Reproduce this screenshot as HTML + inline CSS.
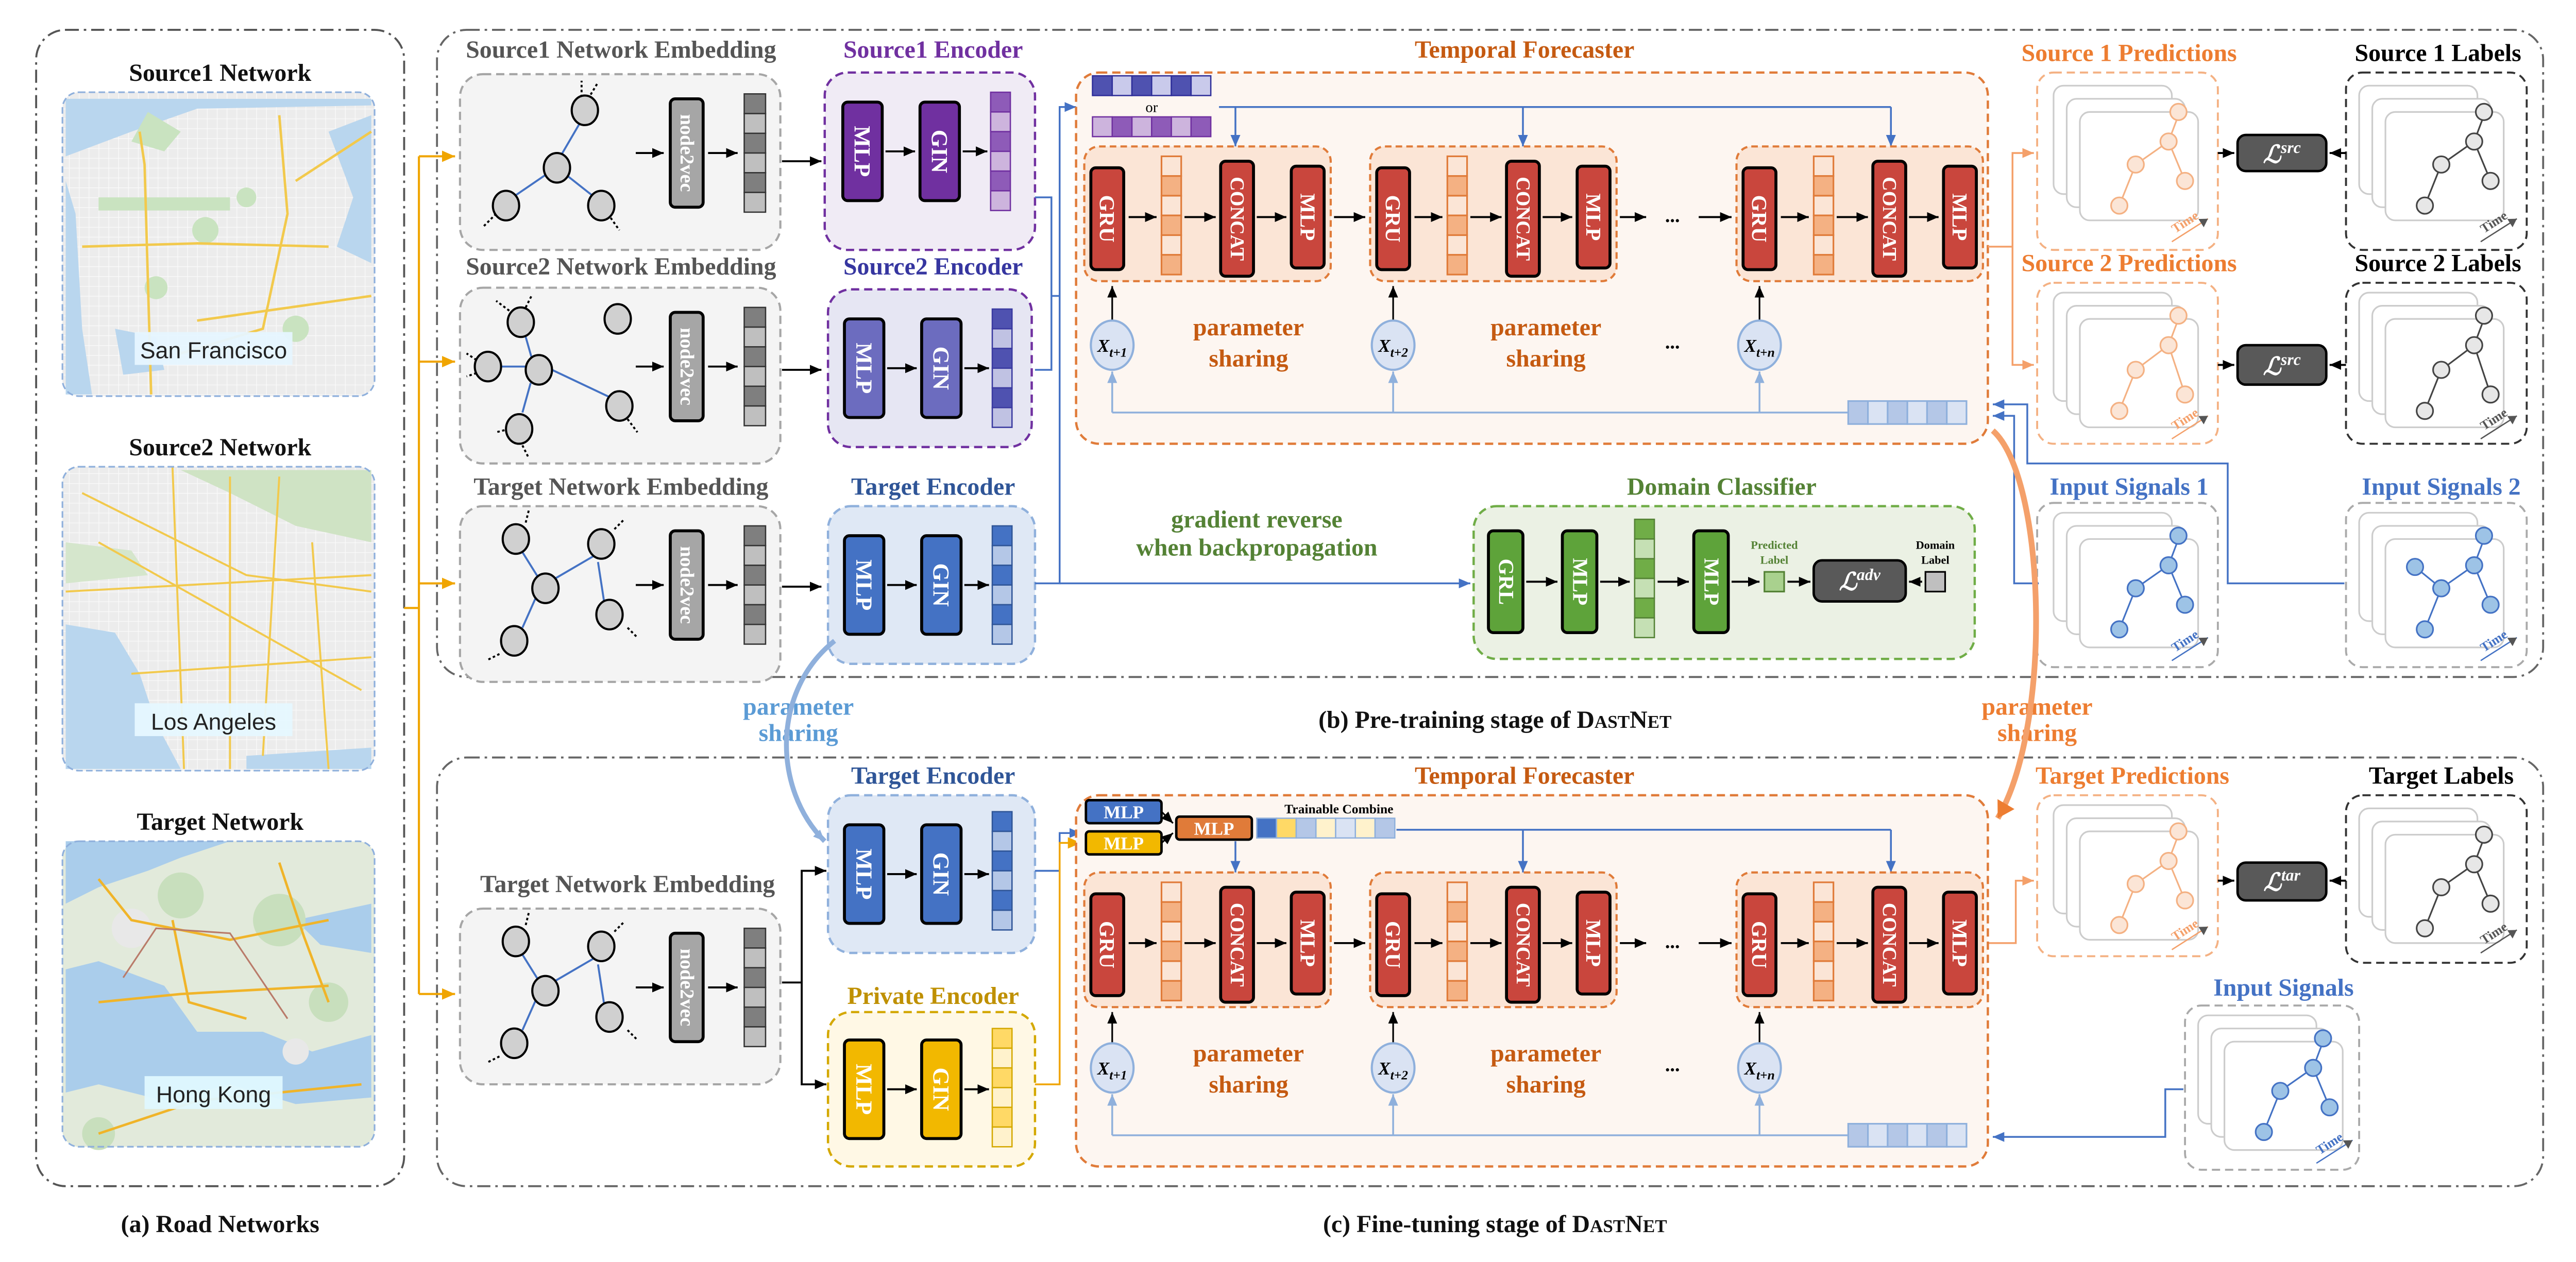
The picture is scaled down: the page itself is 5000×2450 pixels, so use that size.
<!DOCTYPE html>
<html><head><meta charset="utf-8"><style>
html,body{margin:0;padding:0;background:#fff}
svg{display:block}
text{font-family:"Liberation Serif",serif;font-weight:bold}
</style></head><body>
<svg width="5000" height="2450" viewBox="0 0 1568 768" xmlns="http://www.w3.org/2000/svg">
<defs>
<marker id="ak" markerWidth="8" markerHeight="8" refX="7" refY="4" orient="auto" markerUnits="userSpaceOnUse"><path d="M0,1 L7,4 L0,7 Z" fill="#000"/></marker>
<marker id="ab" markerWidth="8" markerHeight="8" refX="7" refY="4" orient="auto" markerUnits="userSpaceOnUse"><path d="M0,1 L7,4 L0,7 Z" fill="#4472c4"/></marker>
<marker id="alb" markerWidth="8" markerHeight="8" refX="7" refY="4" orient="auto" markerUnits="userSpaceOnUse"><path d="M0,1 L7,4 L0,7 Z" fill="#8fb0dc"/></marker>
<marker id="ay" markerWidth="9" markerHeight="9" refX="8" refY="4.5" orient="auto" markerUnits="userSpaceOnUse"><path d="M0,1 L8,4.5 L0,8 Z" fill="#f0a500"/></marker>
<marker id="ao" markerWidth="8" markerHeight="8" refX="7" refY="4" orient="auto" markerUnits="userSpaceOnUse"><path d="M0,1 L7,4 L0,7 Z" fill="#f4a06a"/></marker>
<marker id="aob" markerWidth="12" markerHeight="12" refX="10" refY="6" orient="auto" markerUnits="userSpaceOnUse"><path d="M0,0 L10,6 L0,12 Z" fill="#ed7d31"/></marker>
<marker id="ag" markerWidth="6" markerHeight="6" refX="5" refY="3" orient="auto" markerUnits="userSpaceOnUse"><path d="M0,0 L5,3 L0,6 Z" fill="#555"/></marker>
<pattern id="grid" width="6" height="6" patternUnits="userSpaceOnUse"><rect width="6" height="6" fill="#ececec"/><path d="M0,0 H6 M0,0 V6" stroke="#fafafa" stroke-width="0.8"/></pattern>

<g id="blk">
 <rect x="0" y="0" width="150" height="82" rx="9" fill="#fbe5d6" stroke="#e07b39" stroke-width="1.3" stroke-dasharray="4 2.5"/>
 <rect x="4" y="13" width="20" height="62" rx="3" fill="#c9463d" stroke="#000" stroke-width="1.8"/>
 <g stroke="#e07b39" stroke-width="1">
  <rect x="47" y="6" width="12" height="12" fill="#fbe5d6"/><rect x="47" y="18" width="12" height="12" fill="#f4b183"/>
  <rect x="47" y="30" width="12" height="12" fill="#fbe5d6"/><rect x="47" y="42" width="12" height="12" fill="#f4b183"/>
  <rect x="47" y="54" width="12" height="12" fill="#fbe5d6"/><rect x="47" y="66" width="12" height="12" fill="#f4b183"/>
 </g>
 <rect x="83" y="9" width="20" height="70" rx="3" fill="#c9463d" stroke="#000" stroke-width="1.8"/>
 <rect x="126" y="12" width="20" height="62" rx="3" fill="#c9463d" stroke="#000" stroke-width="1.8"/>
 <g stroke="#000" stroke-width="1.2" marker-end="url(#ak)"><line x1="27" y1="43" x2="44" y2="43"/><line x1="61" y1="43" x2="80" y2="43"/><line x1="105" y1="43" x2="123" y2="43"/></g>
</g>

<g id="emb">
 <rect x="0" y="0" width="195" height="107" rx="14" fill="#f4f4f4" stroke="#a6a6a6" stroke-width="1.3" stroke-dasharray="5 3"/>
 <rect x="128" y="15" width="20" height="66" rx="3" fill="#a6a6a6" stroke="#000" stroke-width="1.8"/>
 <g stroke="#333" stroke-width="0.8">
  <rect x="173" y="12" width="13" height="12" fill="#7f7f7f"/><rect x="173" y="24" width="13" height="12" fill="#bfbfbf"/>
  <rect x="173" y="36" width="13" height="12" fill="#7f7f7f"/><rect x="173" y="48" width="13" height="12" fill="#bfbfbf"/>
  <rect x="173" y="60" width="13" height="12" fill="#7f7f7f"/><rect x="173" y="72" width="13" height="12" fill="#bfbfbf"/>
 </g>
 <g stroke="#000" stroke-width="1.2" marker-end="url(#ak)"><line x1="107" y1="48" x2="124" y2="48"/><line x1="151" y1="48" x2="169" y2="48"/></g>
</g>

<g id="g1">
 <g stroke="#4472c4" stroke-width="1.2"><line x1="72" y1="28" x2="58" y2="52"/><line x1="52" y1="60" x2="30" y2="75"/><line x1="61" y1="60" x2="80" y2="75"/></g>
 <g stroke="#000" stroke-width="1.2" stroke-dasharray="1.5 1.5"><line x1="76" y1="15" x2="82" y2="5"/><line x1="72" y1="14" x2="72" y2="4"/><line x1="20" y1="85" x2="12" y2="93"/><line x1="88" y1="85" x2="95" y2="95"/></g>
 <g fill="#d0d0d0" stroke="#000" stroke-width="1.3"><ellipse cx="74" cy="22" rx="8" ry="9"/><ellipse cx="57" cy="57" rx="8" ry="9"/><ellipse cx="26" cy="80" rx="8" ry="9"/><ellipse cx="84" cy="80" rx="8" ry="9"/></g>
</g>

<g id="card">
 <rect x="0" y="0" width="72" height="66" rx="6" fill="#fff" stroke="#ccc" stroke-width="1"/>
 <rect x="8" y="8" width="72" height="66" rx="6" fill="#fff" stroke="#ccc" stroke-width="1"/>
 <rect x="16" y="16" width="72" height="66" rx="6" fill="#fff" stroke="#ccc" stroke-width="1"/>
</g>
</defs>

<!-- Panel frames -->
<rect x="22" y="18" width="224" height="704" rx="18" fill="none" stroke="#555" stroke-width="1.2" stroke-dasharray="8 3 1.5 3"/>
<rect x="266" y="18" width="1282" height="394" rx="18" fill="none" stroke="#666" stroke-width="1.2" stroke-dasharray="8 3 1.5 3"/>
<rect x="266" y="461" width="1282" height="261" rx="18" fill="none" stroke="#666" stroke-width="1.2" stroke-dasharray="8 3 1.5 3"/>
<text x="134" y="750" font-size="15" text-anchor="middle" fill="#111">(a) Road Networks</text>
<text x="910" y="443" font-size="15" text-anchor="middle" fill="#111">(b) Pre-training stage of D<tspan font-size="11">AST</tspan>N<tspan font-size="11">ET</tspan></text>
<text x="910" y="750" font-size="15" text-anchor="middle" fill="#111">(c) Fine-tuning stage of D<tspan font-size="11">AST</tspan>N<tspan font-size="11">ET</tspan></text>

<!-- Panel a maps -->
<text x="134" y="49" font-size="15" text-anchor="middle" fill="#111">Source1 Network</text>
<rect x="38" y="56" width="190" height="185" rx="10" fill="url(#grid)"/>
<path d="M40,80 L60,72 L70,60 L40,60 Z" fill="#b9d6ee"/>
<path d="M40,60 L226,60 L226,64 L120,66 L80,80 L40,95 Z" fill="#b9d6ee"/>
<path d="M40,110 L46,130 L50,200 L56,240 L40,240 Z" fill="#b9d6ee"/>
<path d="M200,80 L226,70 L226,160 L205,150 L215,120 Z" fill="#b9d6ee"/>
<path d="M70,200 L95,205 L100,225 L75,228 Z" fill="#b9d6ee"/>
<g fill="#c9e3c0"><path d="M90,68 L110,80 L100,92 L80,86 Z"/><rect x="60" y="120" width="80" height="8"/><circle cx="125" cy="140" r="8"/><circle cx="150" cy="120" r="6"/><circle cx="95" cy="175" r="7"/><circle cx="180" cy="200" r="8"/></g>
<g stroke="#f2c94c" stroke-width="1.5" fill="none"><path d="M85,80 L88,100 L92,240"/><path d="M50,150 L120,148 L200,150"/><path d="M170,70 L175,130 L160,200 L110,215"/><path d="M180,110 L226,80"/><path d="M120,195 L226,180"/></g>
<rect x="38" y="56" width="190" height="185" rx="10" fill="none" stroke="#8fb0dc" stroke-dasharray="4 2"/>
<rect x="82" y="202" width="96" height="20" fill="#e6f6ff" opacity="0.95"/>
<text x="130" y="218" font-size="14" text-anchor="middle" fill="#222" style="font-family:'Liberation Sans',sans-serif;font-weight:normal">San Francisco</text>

<text x="134" y="277" font-size="15" text-anchor="middle" fill="#111">Source2 Network</text>
<rect x="38" y="284" width="190" height="185" rx="10" fill="url(#grid)"/>
<path d="M110,286 L226,286 L226,330 L180,320 L140,300 Z" fill="#cfe3c4"/>
<path d="M40,330 L80,335 L90,350 L40,355 Z" fill="#d5e6cc"/>
<path d="M40,380 L70,385 L85,410 L95,440 L110,468 L40,468 Z" fill="#b9d6ee"/>
<path d="M150,460 L226,455 L226,468 L150,468 Z" fill="#b9d6ee"/>
<g stroke="#f2c94c" stroke-width="1.2" fill="none"><path d="M50,300 L150,350 L226,360"/><path d="M105,284 L112,468"/><path d="M60,330 L220,420"/><path d="M170,290 L160,460"/><path d="M40,360 L226,350"/><path d="M80,410 L226,400"/><path d="M140,290 L140,468"/><path d="M190,330 L200,468"/></g>
<rect x="38" y="284" width="190" height="185" rx="10" fill="none" stroke="#8fb0dc" stroke-dasharray="4 2"/>
<rect x="82" y="428" width="96" height="20" fill="#e6f8ff" opacity="0.95"/>
<text x="130" y="444" font-size="14" text-anchor="middle" fill="#222" style="font-family:'Liberation Sans',sans-serif;font-weight:normal">Los Angeles</text>

<text x="134" y="505" font-size="15" text-anchor="middle" fill="#111">Target Network</text>
<rect x="38" y="512" width="190" height="186" rx="10" fill="#e2eadb"/>
<path d="M40,512 L140,512 L110,522 L90,530 L60,540 L40,550 Z" fill="#aacdeb"/>
<path d="M180,560 L226,550 L226,580 L195,575 Z" fill="#aacdeb"/>
<path d="M40,590 L60,585 L100,600 L120,628 L160,628 L190,640 L226,630 L226,668 L180,672 L140,660 L100,670 L60,660 L40,665 Z" fill="#aacdeb"/>
<g fill="#c8dfbd"><circle cx="110" cy="545" r="14"/><circle cx="170" cy="560" r="16"/><circle cx="200" cy="610" r="12"/><circle cx="60" cy="690" r="10"/></g>
<g fill="#e8e8e8"><circle cx="80" cy="565" r="12"/><circle cx="180" cy="640" r="8"/></g>
<g stroke="#f0b429" stroke-width="1.5" fill="none"><path d="M60,535 L80,560 L140,572 L200,560"/><path d="M105,560 L115,610 L150,620"/><path d="M170,525 L185,570 L200,610"/><path d="M60,610 L110,605 L200,600"/><path d="M60,690 L120,670 L220,660"/></g>
<path d="M75,595 L95,565 L140,568 L175,620" stroke="#b97b6a" stroke-width="1" fill="none"/>
<rect x="38" y="512" width="190" height="186" rx="10" fill="none" stroke="#8fb0dc" stroke-dasharray="4 2"/>
<rect x="88" y="655" width="84" height="20" fill="#dff8ff" opacity="0.95"/>
<text x="130" y="671" font-size="14" text-anchor="middle" fill="#222" style="font-family:'Liberation Sans',sans-serif;font-weight:normal">Hong Kong</text>

<!-- yellow arrows -->
<g stroke="#f0a500" stroke-width="1.3" fill="none">
<line x1="246" y1="370" x2="255" y2="370"/>
<line x1="255" y1="95" x2="255" y2="605"/>
<line x1="255" y1="95" x2="277" y2="95" marker-end="url(#ay)"/>
<line x1="255" y1="220" x2="277" y2="220" marker-end="url(#ay)"/>
<line x1="255" y1="355" x2="277" y2="355" marker-end="url(#ay)"/>
<line x1="255" y1="605" x2="277" y2="605" marker-end="url(#ay)"/>
</g>

<!-- Embeddings -->
<text x="378" y="35" font-size="15" text-anchor="middle" fill="#555">Source1 Network Embedding</text>
<use href="#emb" x="280" y="45"/><use href="#g1" x="282" y="45"/>
<text transform="translate(418,93) rotate(90)" font-size="12" text-anchor="middle" dominant-baseline="central" fill="#fff">node2vec</text>

<text x="378" y="167" font-size="15" text-anchor="middle" fill="#555">Source2 Network Embedding</text>
<use href="#emb" x="280" y="175"/>
<g transform="translate(282,175)">
 <g stroke="#4472c4" stroke-width="1.2"><line x1="38" y1="30" x2="42" y2="44"/><line x1="38" y1="48" x2="22" y2="48"/><line x1="54" y1="50" x2="92" y2="68"/><line x1="36" y1="76" x2="41" y2="58"/></g>
 <g stroke="#000" stroke-width="1.2" stroke-dasharray="1.5 1.5"><line x1="28" y1="14" x2="20" y2="8"/><line x1="38" y1="12" x2="42" y2="4"/><line x1="8" y1="44" x2="2" y2="40"/><line x1="8" y1="52" x2="2" y2="54"/><line x1="100" y1="80" x2="106" y2="88"/><line x1="28" y1="86" x2="20" y2="88"/><line x1="36" y1="96" x2="40" y2="104"/></g>
 <g fill="#d0d0d0" stroke="#000" stroke-width="1.3"><ellipse cx="35" cy="21" rx="8" ry="9"/><ellipse cx="94" cy="19" rx="8" ry="9"/><ellipse cx="15" cy="48" rx="8" ry="9"/><ellipse cx="46" cy="50" rx="8" ry="9"/><ellipse cx="95" cy="72" rx="8" ry="9"/><ellipse cx="34" cy="86" rx="8" ry="9"/></g>
</g>
<text transform="translate(418,223) rotate(90)" font-size="12" text-anchor="middle" dominant-baseline="central" fill="#fff">node2vec</text>

<text x="378" y="301" font-size="15" text-anchor="middle" fill="#555">Target Network Embedding</text>
<use href="#emb" x="280" y="308"/>
<g transform="translate(282,308)">
 <g stroke="#4472c4" stroke-width="1.2"><line x1="36" y1="28" x2="46" y2="44"/><line x1="56" y1="44" x2="80" y2="30"/><line x1="82" y1="34" x2="86" y2="60"/><line x1="44" y1="56" x2="36" y2="74"/></g>
 <g stroke="#000" stroke-width="1.2" stroke-dasharray="1.5 1.5"><line x1="38" y1="10" x2="40" y2="2"/><line x1="92" y1="14" x2="98" y2="8"/><line x1="100" y1="74" x2="106" y2="80"/><line x1="22" y1="90" x2="14" y2="94"/></g>
 <g fill="#d0d0d0" stroke="#000" stroke-width="1.3"><ellipse cx="32" cy="20" rx="8" ry="9"/><ellipse cx="84" cy="23" rx="8" ry="9"/><ellipse cx="50" cy="50" rx="8" ry="9"/><ellipse cx="89" cy="66" rx="8" ry="9"/><ellipse cx="31" cy="82" rx="8" ry="9"/></g>
</g>
<text transform="translate(418,356) rotate(90)" font-size="12" text-anchor="middle" dominant-baseline="central" fill="#fff">node2vec</text>

<text x="382" y="543" font-size="15" text-anchor="middle" fill="#555">Target Network Embedding</text>
<use href="#emb" x="280" y="553"/>
<g transform="translate(282,553)">
 <g stroke="#4472c4" stroke-width="1.2"><line x1="36" y1="28" x2="46" y2="44"/><line x1="56" y1="44" x2="80" y2="30"/><line x1="82" y1="34" x2="86" y2="60"/><line x1="44" y1="56" x2="36" y2="74"/></g>
 <g stroke="#000" stroke-width="1.2" stroke-dasharray="1.5 1.5"><line x1="38" y1="10" x2="40" y2="2"/><line x1="92" y1="14" x2="98" y2="8"/><line x1="100" y1="74" x2="106" y2="80"/><line x1="22" y1="90" x2="14" y2="94"/></g>
 <g fill="#d0d0d0" stroke="#000" stroke-width="1.3"><ellipse cx="32" cy="20" rx="8" ry="9"/><ellipse cx="84" cy="23" rx="8" ry="9"/><ellipse cx="50" cy="50" rx="8" ry="9"/><ellipse cx="89" cy="66" rx="8" ry="9"/><ellipse cx="31" cy="82" rx="8" ry="9"/></g>
</g>
<text transform="translate(418,601) rotate(90)" font-size="12" text-anchor="middle" dominant-baseline="central" fill="#fff">node2vec</text>

<!-- embedding -> encoder arrows -->
<g stroke="#000" stroke-width="1.2" marker-end="url(#ak)">
<line x1="476" y1="98" x2="500" y2="98"/><line x1="476" y1="225" x2="500" y2="225"/><line x1="476" y1="357" x2="500" y2="357"/>
<line x1="497" y1="530" x2="503" y2="530"/><line x1="497" y1="660" x2="503" y2="660"/>
</g>
<path d="M476,598 L488,598 L488,530 L500,530 M488,598 L488,660 L500,660" fill="none" stroke="#000" stroke-width="1.2"/>

<!-- Encoders -->
<text x="568" y="35" font-size="15" text-anchor="middle" fill="#7030a0">Source1 Encoder</text>
<rect x="502" y="44" width="128" height="108" rx="14" fill="#f0ebf5" stroke="#7030a0" stroke-width="1.4" stroke-dasharray="5 3"/>
<rect x="513" y="62" width="24" height="60" rx="3" fill="#7030a0" stroke="#000" stroke-width="1.8"/>
<rect x="560" y="62" width="24" height="60" rx="3" fill="#7030a0" stroke="#000" stroke-width="1.8"/>
<g stroke="#7030a0" stroke-width="0.8"><rect x="603" y="56" width="12" height="12" fill="#8e5bb8"/><rect x="603" y="68" width="12" height="12" fill="#cdb4dd"/><rect x="603" y="80" width="12" height="12" fill="#8e5bb8"/><rect x="603" y="92" width="12" height="12" fill="#cdb4dd"/><rect x="603" y="104" width="12" height="12" fill="#8e5bb8"/><rect x="603" y="116" width="12" height="12" fill="#cdb4dd"/></g>
<text transform="translate(525,92) rotate(90)" font-size="14" text-anchor="middle" dominant-baseline="central" fill="#fff">MLP</text>
<text transform="translate(572,92) rotate(90)" font-size="14" text-anchor="middle" dominant-baseline="central" fill="#fff">GIN</text>

<text x="568" y="167" font-size="15" text-anchor="middle" fill="#3636a0">Source2 Encoder</text>
<rect x="504" y="176" width="124" height="96" rx="14" fill="#e6e6f3" stroke="#7030a0" stroke-width="1.4" stroke-dasharray="5 3"/>
<rect x="514" y="194" width="24" height="60" rx="3" fill="#6c6cbf" stroke="#000" stroke-width="1.8"/>
<rect x="561" y="194" width="24" height="60" rx="3" fill="#6c6cbf" stroke="#000" stroke-width="1.8"/>
<g stroke="#3a3aa0" stroke-width="0.8"><rect x="604" y="188" width="12" height="12" fill="#4f52b0"/><rect x="604" y="200" width="12" height="12" fill="#c0c2e3"/><rect x="604" y="212" width="12" height="12" fill="#4f52b0"/><rect x="604" y="224" width="12" height="12" fill="#c0c2e3"/><rect x="604" y="236" width="12" height="12" fill="#4f52b0"/><rect x="604" y="248" width="12" height="12" fill="#c0c2e3"/></g>
<text transform="translate(526,224) rotate(90)" font-size="14" text-anchor="middle" dominant-baseline="central" fill="#fff">MLP</text>
<text transform="translate(573,224) rotate(90)" font-size="14" text-anchor="middle" dominant-baseline="central" fill="#fff">GIN</text>

<text x="568" y="301" font-size="15" text-anchor="middle" fill="#2f5597">Target Encoder</text>
<rect x="504" y="308" width="126" height="96" rx="14" fill="#dfe8f5" stroke="#8fb0dc" stroke-width="1.4" stroke-dasharray="5 3"/>
<rect x="514" y="326" width="24" height="60" rx="3" fill="#4472c4" stroke="#000" stroke-width="1.8"/>
<rect x="561" y="326" width="24" height="60" rx="3" fill="#4472c4" stroke="#000" stroke-width="1.8"/>
<g stroke="#2f5597" stroke-width="0.8"><rect x="604" y="320" width="12" height="12" fill="#4472c4"/><rect x="604" y="332" width="12" height="12" fill="#b4c7e7"/><rect x="604" y="344" width="12" height="12" fill="#4472c4"/><rect x="604" y="356" width="12" height="12" fill="#b4c7e7"/><rect x="604" y="368" width="12" height="12" fill="#4472c4"/><rect x="604" y="380" width="12" height="12" fill="#b4c7e7"/></g>
<text transform="translate(526,356) rotate(90)" font-size="14" text-anchor="middle" dominant-baseline="central" fill="#fff">MLP</text>
<text transform="translate(573,356) rotate(90)" font-size="14" text-anchor="middle" dominant-baseline="central" fill="#fff">GIN</text>

<text x="568" y="477" font-size="15" text-anchor="middle" fill="#2f5597">Target Encoder</text>
<rect x="504" y="484" width="126" height="96" rx="14" fill="#dfe8f5" stroke="#8fb0dc" stroke-width="1.4" stroke-dasharray="5 3"/>
<rect x="514" y="502" width="24" height="60" rx="3" fill="#4472c4" stroke="#000" stroke-width="1.8"/>
<rect x="561" y="502" width="24" height="60" rx="3" fill="#4472c4" stroke="#000" stroke-width="1.8"/>
<g stroke="#2f5597" stroke-width="0.8"><rect x="604" y="494" width="12" height="12" fill="#4472c4"/><rect x="604" y="506" width="12" height="12" fill="#b4c7e7"/><rect x="604" y="518" width="12" height="12" fill="#4472c4"/><rect x="604" y="530" width="12" height="12" fill="#b4c7e7"/><rect x="604" y="542" width="12" height="12" fill="#4472c4"/><rect x="604" y="554" width="12" height="12" fill="#b4c7e7"/></g>
<text transform="translate(526,532) rotate(90)" font-size="14" text-anchor="middle" dominant-baseline="central" fill="#fff">MLP</text>
<text transform="translate(573,532) rotate(90)" font-size="14" text-anchor="middle" dominant-baseline="central" fill="#fff">GIN</text>

<text x="568" y="611" font-size="15" text-anchor="middle" fill="#bf9000">Private Encoder</text>
<rect x="504" y="616" width="126" height="94" rx="14" fill="#fff8e5" stroke="#d4a800" stroke-width="1.4" stroke-dasharray="5 3"/>
<rect x="514" y="633" width="24" height="60" rx="3" fill="#f2b800" stroke="#000" stroke-width="1.8"/>
<rect x="561" y="633" width="24" height="60" rx="3" fill="#f2b800" stroke="#000" stroke-width="1.8"/>
<g stroke="#d4a800" stroke-width="0.8"><rect x="604" y="626" width="12" height="12" fill="#ffd966"/><rect x="604" y="638" width="12" height="12" fill="#fff2cc"/><rect x="604" y="650" width="12" height="12" fill="#ffd966"/><rect x="604" y="662" width="12" height="12" fill="#fff2cc"/><rect x="604" y="674" width="12" height="12" fill="#ffd966"/><rect x="604" y="686" width="12" height="12" fill="#fff2cc"/></g>
<text transform="translate(526,663) rotate(90)" font-size="14" text-anchor="middle" dominant-baseline="central" fill="#fff">MLP</text>
<text transform="translate(573,663) rotate(90)" font-size="14" text-anchor="middle" dominant-baseline="central" fill="#fff">GIN</text>

<g stroke="#000" stroke-width="1.2" marker-end="url(#ak)">
<line x1="539" y1="92" x2="557" y2="92"/><line x1="586" y1="92" x2="601" y2="92"/>
<line x1="540" y1="224" x2="558" y2="224"/><line x1="587" y1="224" x2="602" y2="224"/>
<line x1="540" y1="356" x2="558" y2="356"/><line x1="587" y1="356" x2="602" y2="356"/>
<line x1="540" y1="532" x2="558" y2="532"/><line x1="587" y1="532" x2="602" y2="532"/>
<line x1="540" y1="663" x2="558" y2="663"/><line x1="587" y1="663" x2="602" y2="663"/>
</g>

<!-- encoder to forecaster lines -->
<g stroke="#4472c4" stroke-width="1.1" fill="none">
<path d="M630,120 L640,120 L640,225 L630,225"/>
<path d="M640,180 L645,180"/>
<path d="M630,355 L645,355 L645,65 L655,65" marker-end="url(#ab)"/>
<path d="M645,355 L895,355" marker-end="url(#ab)"/>
<path d="M630,530 L645,530 L645,507 L658,507" marker-end="url(#ab)"/>
</g>
<path d="M630,660 L645,660 L645,513 L658,513" fill="none" stroke="#f0a500" stroke-width="1.1" marker-end="url(#ay)"/>

<!-- Temporal Forecaster (b) -->
<text x="928" y="35" font-size="15" text-anchor="middle" fill="#c55a11">Temporal Forecaster</text>
<rect x="655" y="44" width="555" height="226" rx="14" fill="#fdf6f1" stroke="#e07b39" stroke-width="1.4" stroke-dasharray="5 3"/>
<g stroke="#2f2f9a" stroke-width="0.8"><rect x="665" y="46" width="12" height="12" fill="#4f52b0"/><rect x="677" y="46" width="12" height="12" fill="#c9caeb"/><rect x="689" y="46" width="12" height="12" fill="#4f52b0"/><rect x="701" y="46" width="12" height="12" fill="#c9caeb"/><rect x="713" y="46" width="12" height="12" fill="#4f52b0"/><rect x="725" y="46" width="12" height="12" fill="#c9caeb"/></g>
<text x="701" y="68" font-size="9" text-anchor="middle" fill="#000" style="font-weight:normal">or</text>
<g stroke="#7030a0" stroke-width="0.8"><rect x="665" y="71" width="12" height="12" fill="#cdb4dd"/><rect x="677" y="71" width="12" height="12" fill="#8e5bb8"/><rect x="689" y="71" width="12" height="12" fill="#cdb4dd"/><rect x="701" y="71" width="12" height="12" fill="#8e5bb8"/><rect x="713" y="71" width="12" height="12" fill="#cdb4dd"/><rect x="725" y="71" width="12" height="12" fill="#8e5bb8"/></g>
<g stroke="#4472c4" stroke-width="1.1" fill="none">
<line x1="742" y1="65" x2="1151" y2="65"/>
<line x1="752" y1="65" x2="752" y2="89" marker-end="url(#ab)"/>
<line x1="927" y1="65" x2="927" y2="89" marker-end="url(#ab)"/>
<line x1="1151" y1="65" x2="1151" y2="89" marker-end="url(#ab)"/>
</g>
<use href="#blk" x="660" y="89"/><use href="#blk" x="834" y="89"/><use href="#blk" x="1057" y="89"/>
<g font-size="13" fill="#fff" text-anchor="middle" dominant-baseline="central">
<text transform="translate(674,133) rotate(90)">GRU</text><text transform="translate(753,133) rotate(90)" font-size="12">CONCAT</text><text transform="translate(796,132) rotate(90)">MLP</text>
<text transform="translate(848,133) rotate(90)">GRU</text><text transform="translate(927,133) rotate(90)" font-size="12">CONCAT</text><text transform="translate(970,132) rotate(90)">MLP</text>
<text transform="translate(1071,133) rotate(90)">GRU</text><text transform="translate(1150,133) rotate(90)" font-size="12">CONCAT</text><text transform="translate(1193,132) rotate(90)">MLP</text>
</g>
<g stroke="#000" stroke-width="1.2" marker-end="url(#ak)"><line x1="812" y1="132" x2="831" y2="132"/><line x1="986" y1="132" x2="1002" y2="132"/><line x1="1034" y1="132" x2="1054" y2="132"/></g>
<text x="1018" y="135" font-size="12" text-anchor="middle" fill="#000">...</text>
<g stroke="#000" stroke-width="1" marker-end="url(#ak)"><line x1="677" y1="196" x2="677" y2="174"/><line x1="848" y1="196" x2="848" y2="174"/><line x1="1071" y1="196" x2="1071" y2="174"/></g>
<g fill="#dae3f3" stroke="#8fb0dc" stroke-width="1.3"><ellipse cx="677" cy="210" rx="13" ry="15"/><ellipse cx="848" cy="210" rx="13" ry="15"/><ellipse cx="1071" cy="210" rx="13" ry="15"/></g>
<g font-size="11" font-style="italic" text-anchor="middle" fill="#000">
<text x="677" y="214">X<tspan font-size="8" dy="3">t+1</tspan></text><text x="848" y="214">X<tspan font-size="8" dy="3">t+2</tspan></text><text x="1071" y="214">X<tspan font-size="8" dy="3">t+n</tspan></text>
</g>
<g font-size="15" text-anchor="middle" fill="#c55a11"><text x="760" y="204">parameter</text><text x="760" y="223">sharing</text><text x="941" y="204">parameter</text><text x="941" y="223">sharing</text></g>
<text x="1018" y="212" font-size="12" text-anchor="middle" fill="#000">...</text>
<g stroke="#8fb0dc" stroke-width="1.1" fill="none"><line x1="677" y1="251" x2="1125" y2="251"/><line x1="677" y1="251" x2="677" y2="226" marker-end="url(#alb)"/><line x1="848" y1="251" x2="848" y2="226" marker-end="url(#alb)"/><line x1="1071" y1="251" x2="1071" y2="226" marker-end="url(#alb)"/></g>
<g stroke="#8fb0dc" stroke-width="1"><rect x="1125" y="244" width="12" height="14" fill="#b4c7e7"/><rect x="1137" y="244" width="12" height="14" fill="#dae3f3"/><rect x="1149" y="244" width="12" height="14" fill="#b4c7e7"/><rect x="1161" y="244" width="12" height="14" fill="#dae3f3"/><rect x="1173" y="244" width="12" height="14" fill="#b4c7e7"/><rect x="1185" y="244" width="12" height="14" fill="#dae3f3"/></g>

<!-- Domain classifier -->
<text x="765" y="321" font-size="15" text-anchor="middle" fill="#548235">gradient reverse</text>
<text x="765" y="338" font-size="15" text-anchor="middle" fill="#548235">when backpropagation</text>
<text x="1048" y="301" font-size="15" text-anchor="middle" fill="#548235">Domain Classifier</text>
<rect x="897" y="308" width="305" height="93" rx="14" fill="#ebf1e4" stroke="#70ad47" stroke-width="1.4" stroke-dasharray="5 3"/>
<rect x="906" y="323" width="21" height="62" rx="3" fill="#5ea33a" stroke="#000" stroke-width="1.8"/>
<rect x="951" y="323" width="21" height="62" rx="3" fill="#5ea33a" stroke="#000" stroke-width="1.8"/>
<rect x="1031" y="323" width="21" height="62" rx="3" fill="#5ea33a" stroke="#000" stroke-width="1.8"/>
<g stroke="#548235" stroke-width="0.8"><rect x="995" y="316" width="12" height="12" fill="#70ad47"/><rect x="995" y="328" width="12" height="12" fill="#c5e0b4"/><rect x="995" y="340" width="12" height="12" fill="#70ad47"/><rect x="995" y="352" width="12" height="12" fill="#c5e0b4"/><rect x="995" y="364" width="12" height="12" fill="#70ad47"/><rect x="995" y="376" width="12" height="12" fill="#c5e0b4"/></g>
<g font-size="13" fill="#fff" text-anchor="middle" dominant-baseline="central"><text transform="translate(917,354) rotate(90)">GRL</text><text transform="translate(962,354) rotate(90)">MLP</text><text transform="translate(1042,354) rotate(90)">MLP</text></g>
<g stroke="#000" stroke-width="1.2" marker-end="url(#ak)"><line x1="929" y1="354" x2="948" y2="354"/><line x1="974" y1="354" x2="992" y2="354"/><line x1="1009" y1="354" x2="1028" y2="354"/><line x1="1054" y1="354" x2="1071" y2="354"/><line x1="1088" y1="354" x2="1102" y2="354"/><line x1="1170" y1="354" x2="1162" y2="354"/></g>
<rect x="1074" y="348" width="12" height="12" fill="#a9d18e" stroke="#548235"/>
<text x="1080" y="334" font-size="7" text-anchor="middle" fill="#548235">Predicted</text><text x="1080" y="343" font-size="7" text-anchor="middle" fill="#548235">Label</text>
<rect x="1104" y="341" width="56" height="25" rx="5" fill="#595959" stroke="#000" stroke-width="1.5"/>
<text x="1132" y="359" font-size="15" text-anchor="middle" fill="#fff" font-style="italic">ℒ<tspan font-size="10" dy="-6">adv</tspan></text>
<rect x="1172" y="348" width="12" height="12" fill="#bfbfbf" stroke="#000"/>
<text x="1178" y="334" font-size="7" text-anchor="middle" fill="#000">Domain</text><text x="1178" y="343" font-size="7" text-anchor="middle" fill="#000">Label</text>

<!-- Right column titles -->
<g font-size="15" text-anchor="middle">
<text x="1296" y="37" fill="#ed7d31">Source 1 Predictions</text><text x="1484" y="37" fill="#000">Source 1 Labels</text>
<text x="1296" y="165" fill="#ed7d31">Source 2 Predictions</text><text x="1484" y="165" fill="#000">Source 2 Labels</text>
<text x="1296" y="301" fill="#4472c4">Input Signals 1</text><text x="1486" y="301" fill="#4472c4">Input Signals 2</text>
<text x="1298" y="477" fill="#ed7d31">Target Predictions</text><text x="1486" y="477" fill="#000">Target Labels</text>
<text x="1390" y="606" fill="#4472c4">Input Signals</text>
</g>
<g fill="none" stroke-width="1.2" stroke-dasharray="5 3">
<rect x="1240" y="44" width="110" height="108" rx="10" stroke="#f4b183"/>
<rect x="1428" y="44" width="110" height="108" rx="10" stroke="#333"/>
<rect x="1240" y="172" width="110" height="98" rx="10" stroke="#f4b183"/>
<rect x="1428" y="172" width="110" height="98" rx="10" stroke="#333"/>
<rect x="1240" y="306" width="110" height="100" rx="10" stroke="#aaa"/>
<rect x="1428" y="306" width="110" height="100" rx="10" stroke="#aaa"/>
<rect x="1240" y="484" width="110" height="98" rx="10" stroke="#f4b183"/>
<rect x="1428" y="484" width="110" height="102" rx="10" stroke="#333"/>
<rect x="1330" y="612" width="106" height="100" rx="10" stroke="#aaa"/>
</g>
<use href="#card" x="1250" y="52"/><use href="#card" x="1436" y="52"/>
<use href="#card" x="1250" y="178"/><use href="#card" x="1436" y="178"/>
<use href="#card" x="1250" y="312"/><use href="#card" x="1436" y="312"/>
<use href="#card" x="1250" y="490"/><use href="#card" x="1436" y="492"/>
<use href="#card" x="1338" y="618"/>
<!-- Time arrows -->
<g stroke-width="0.8">
<line x1="1322" y1="147" x2="1344" y2="133" stroke="#f4a06a" marker-end="url(#ag)"/>
<line x1="1510" y1="147" x2="1532" y2="133" stroke="#555" marker-end="url(#ag)"/>
<line x1="1322" y1="267" x2="1344" y2="253" stroke="#f4a06a" marker-end="url(#ag)"/>
<line x1="1510" y1="267" x2="1532" y2="253" stroke="#555" marker-end="url(#ag)"/>
<line x1="1322" y1="402" x2="1344" y2="388" stroke="#4472c4" marker-end="url(#ag)"/>
<line x1="1510" y1="402" x2="1532" y2="388" stroke="#4472c4" marker-end="url(#ag)"/>
<line x1="1322" y1="578" x2="1344" y2="564" stroke="#f4a06a" marker-end="url(#ag)"/>
<line x1="1510" y1="580" x2="1532" y2="566" stroke="#555" marker-end="url(#ag)"/>
<line x1="1410" y1="708" x2="1432" y2="694" stroke="#4472c4" marker-end="url(#ag)"/>
</g>
<g font-size="8" fill="#aaa" style="font-weight:normal">
<text transform="translate(1324,142) rotate(-33)" fill="#f4a06a">Time</text>
<text transform="translate(1512,142) rotate(-33)" fill="#555">Time</text>
<text transform="translate(1324,262) rotate(-33)" fill="#f4a06a">Time</text>
<text transform="translate(1512,262) rotate(-33)" fill="#555">Time</text>
<text transform="translate(1324,397) rotate(-33)" fill="#4472c4">Time</text>
<text transform="translate(1512,397) rotate(-33)" fill="#4472c4">Time</text>
<text transform="translate(1324,573) rotate(-33)" fill="#f4a06a">Time</text>
<text transform="translate(1512,575) rotate(-33)" fill="#555">Time</text>
<text transform="translate(1412,703) rotate(-33)" fill="#4472c4">Time</text>
</g>
<!-- graph nodes in cards -->
<g stroke-width="1">
<g stroke="#f4b183" fill="#fbe5d6"><path d="M1300,100 L1320,86 L1330,110 M1300,100 L1290,125 M1320,86 L1326,70" fill="none"/><circle cx="1300" cy="100" r="5"/><circle cx="1320" cy="86" r="5"/><circle cx="1330" cy="110" r="5"/><circle cx="1290" cy="125" r="5"/><circle cx="1326" cy="68" r="5"/></g>
<g stroke="#444" fill="#e7e7e7"><path d="M1486,100 L1506,86 L1516,110 M1486,100 L1476,125 M1506,86 L1512,70" fill="none"/><circle cx="1486" cy="100" r="5"/><circle cx="1506" cy="86" r="5"/><circle cx="1516" cy="110" r="5"/><circle cx="1476" cy="125" r="5"/><circle cx="1512" cy="68" r="5"/></g>
<g stroke="#f4b183" fill="#fbe5d6"><path d="M1300,225 L1320,210 L1330,240 M1300,225 L1290,250 M1320,210 L1326,194" fill="none"/><circle cx="1300" cy="225" r="5"/><circle cx="1320" cy="210" r="5"/><circle cx="1330" cy="240" r="5"/><circle cx="1290" cy="250" r="5"/><circle cx="1326" cy="192" r="5"/></g>
<g stroke="#444" fill="#e7e7e7"><path d="M1486,225 L1506,210 L1516,240 M1486,225 L1476,250 M1506,210 L1512,194" fill="none"/><circle cx="1486" cy="225" r="5"/><circle cx="1506" cy="210" r="5"/><circle cx="1516" cy="240" r="5"/><circle cx="1476" cy="250" r="5"/><circle cx="1512" cy="192" r="5"/></g>
<g stroke="#4472c4" fill="#9dc3e6"><path d="M1300,358 L1320,344 L1330,368 M1300,358 L1290,383 M1320,344 L1326,328" fill="none"/><circle cx="1300" cy="358" r="5"/><circle cx="1320" cy="344" r="5"/><circle cx="1330" cy="368" r="5"/><circle cx="1290" cy="383" r="5"/><circle cx="1326" cy="326" r="5"/></g>
<g stroke="#4472c4" fill="#9dc3e6"><path d="M1486,358 L1506,344 L1516,368 M1486,358 L1476,383 M1506,344 L1512,328 M1486,358 L1470,345" fill="none"/><circle cx="1486" cy="358" r="5"/><circle cx="1506" cy="344" r="5"/><circle cx="1516" cy="368" r="5"/><circle cx="1476" cy="383" r="5"/><circle cx="1512" cy="326" r="5"/><circle cx="1470" cy="345" r="5"/></g>
<g stroke="#f4b183" fill="#fbe5d6"><path d="M1300,538 L1320,524 L1330,548 M1300,538 L1290,563 M1320,524 L1326,508" fill="none"/><circle cx="1300" cy="538" r="5"/><circle cx="1320" cy="524" r="5"/><circle cx="1330" cy="548" r="5"/><circle cx="1290" cy="563" r="5"/><circle cx="1326" cy="506" r="5"/></g>
<g stroke="#444" fill="#e7e7e7"><path d="M1486,540 L1506,526 L1516,550 M1486,540 L1476,565 M1506,526 L1512,510" fill="none"/><circle cx="1486" cy="540" r="5"/><circle cx="1506" cy="526" r="5"/><circle cx="1516" cy="550" r="5"/><circle cx="1476" cy="565" r="5"/><circle cx="1512" cy="508" r="5"/></g>
<g stroke="#4472c4" fill="#9dc3e6"><path d="M1388,664 L1408,650 L1418,674 M1388,664 L1378,689 M1408,650 L1414,634" fill="none"/><circle cx="1388" cy="664" r="5"/><circle cx="1408" cy="650" r="5"/><circle cx="1418" cy="674" r="5"/><circle cx="1378" cy="689" r="5"/><circle cx="1414" cy="632" r="5"/></g>
</g>
<!-- Loss boxes -->
<rect x="1362" y="82" width="54" height="22" rx="5" fill="#595959" stroke="#000" stroke-width="1.5"/>
<text x="1389" y="99" font-size="15" text-anchor="middle" fill="#fff" font-style="italic">ℒ<tspan font-size="10" dy="-6">src</tspan></text>
<rect x="1362" y="210" width="54" height="24" rx="5" fill="#595959" stroke="#000" stroke-width="1.5"/>
<text x="1389" y="228" font-size="15" text-anchor="middle" fill="#fff" font-style="italic">ℒ<tspan font-size="10" dy="-6">src</tspan></text>
<rect x="1362" y="525" width="54" height="23" rx="5" fill="#595959" stroke="#000" stroke-width="1.5"/>
<text x="1389" y="542" font-size="15" text-anchor="middle" fill="#fff" font-style="italic">ℒ<tspan font-size="10" dy="-6">tar</tspan></text>
<g stroke="#000" stroke-width="1.2" marker-end="url(#ak)">
<line x1="1350" y1="93" x2="1360" y2="93"/><line x1="1428" y1="93" x2="1418" y2="93"/>
<line x1="1350" y1="222" x2="1360" y2="222"/><line x1="1428" y1="222" x2="1418" y2="222"/>
<line x1="1350" y1="536" x2="1360" y2="536"/><line x1="1428" y1="536" x2="1418" y2="536"/>
</g>

<!-- forecaster outputs -->
<g stroke="#f4a06a" stroke-width="1.1" fill="none">
<path d="M1210,150 L1225,150 L1225,93 L1238,93" marker-end="url(#ao)"/>
<path d="M1225,150 L1225,222 L1238,222" marker-end="url(#ao)"/>
<path d="M1210,574 L1227,574 L1227,536 L1238,536" marker-end="url(#ao)"/>
</g>
<g stroke="#4472c4" stroke-width="1.1" fill="none">
<path d="M1241,355 L1226,355 L1226,253 L1213,253" marker-end="url(#ab)"/>
<path d="M1427,355 L1356,355 L1356,282 L1234,282 L1234,246 L1213,246" marker-end="url(#ab)"/>
<path d="M1329,663 L1318,663 L1318,692 L1213,692" marker-end="url(#ab)"/>
</g>

<!-- parameter sharing curves -->
<text x="486" y="435" font-size="15" text-anchor="middle" fill="#5b9bd5">parameter</text>
<text x="486" y="451" font-size="15" text-anchor="middle" fill="#5b9bd5">sharing</text>
<path d="M508,390 C470,420 470,480 502,512" fill="none" stroke="#8fb0dc" stroke-width="3" marker-end="url(#alb)"/>
<text x="1240" y="435" font-size="15" text-anchor="middle" fill="#ed7d31">parameter</text>
<text x="1240" y="451" font-size="15" text-anchor="middle" fill="#ed7d31">sharing</text>
<path d="M1213,262 C1245,290 1250,440 1216,498" fill="none" stroke="#f4a06a" stroke-width="3.5" marker-end="url(#aob)"/>

<!-- Temporal Forecaster (c) -->
<text x="928" y="477" font-size="15" text-anchor="middle" fill="#c55a11">Temporal Forecaster</text>
<rect x="655" y="484" width="555" height="226" rx="14" fill="#fdf6f1" stroke="#e07b39" stroke-width="1.4" stroke-dasharray="5 3"/>
<rect x="661" y="487" width="46" height="14" rx="2" fill="#4472c4" stroke="#000" stroke-width="1.5"/>
<text x="684" y="498" font-size="11" text-anchor="middle" fill="#fff">MLP</text>
<rect x="661" y="506" width="46" height="14" rx="2" fill="#f2b800" stroke="#000" stroke-width="1.5"/>
<text x="684" y="517" font-size="11" text-anchor="middle" fill="#fff">MLP</text>
<rect x="716" y="497" width="46" height="14" rx="2" fill="#e07b39" stroke="#000" stroke-width="1.5"/>
<text x="739" y="508" font-size="11" text-anchor="middle" fill="#fff">MLP</text>
<g stroke="#000" stroke-width="1" marker-end="url(#ak)"><line x1="707" y1="494" x2="714" y2="501"/><line x1="707" y1="513" x2="714" y2="507"/></g>
<text x="815" y="495" font-size="8" text-anchor="middle" fill="#000">Trainable Combine</text>
<g stroke="#8fb0dc" stroke-width="0.8"><rect x="765" y="498" width="12" height="12" fill="#4472c4"/><rect x="777" y="498" width="12" height="12" fill="#ffd966"/><rect x="789" y="498" width="12" height="12" fill="#b4c7e7"/><rect x="801" y="498" width="12" height="12" fill="#fff2cc"/><rect x="813" y="498" width="12" height="12" fill="#dae3f3"/><rect x="825" y="498" width="12" height="12" fill="#fff2cc"/><rect x="837" y="498" width="12" height="12" fill="#b4c7e7"/></g>
<g stroke="#4472c4" stroke-width="1.1" fill="none">
<line x1="850" y1="505" x2="1151" y2="505"/>
<line x1="752" y1="512" x2="752" y2="531" marker-end="url(#ab)"/>
<line x1="927" y1="505" x2="927" y2="531" marker-end="url(#ab)"/>
<line x1="1151" y1="505" x2="1151" y2="531" marker-end="url(#ab)"/>
</g>
<use href="#blk" x="660" y="531"/><use href="#blk" x="834" y="531"/><use href="#blk" x="1057" y="531"/>
<g font-size="13" fill="#fff" text-anchor="middle" dominant-baseline="central">
<text transform="translate(674,575) rotate(90)">GRU</text><text transform="translate(753,575) rotate(90)" font-size="12">CONCAT</text><text transform="translate(796,574) rotate(90)">MLP</text>
<text transform="translate(848,575) rotate(90)">GRU</text><text transform="translate(927,575) rotate(90)" font-size="12">CONCAT</text><text transform="translate(970,574) rotate(90)">MLP</text>
<text transform="translate(1071,575) rotate(90)">GRU</text><text transform="translate(1150,575) rotate(90)" font-size="12">CONCAT</text><text transform="translate(1193,574) rotate(90)">MLP</text>
</g>
<g stroke="#000" stroke-width="1.2" marker-end="url(#ak)"><line x1="812" y1="574" x2="831" y2="574"/><line x1="986" y1="574" x2="1002" y2="574"/><line x1="1034" y1="574" x2="1054" y2="574"/></g>
<text x="1018" y="577" font-size="12" text-anchor="middle" fill="#000">...</text>
<g stroke="#000" stroke-width="1" marker-end="url(#ak)"><line x1="677" y1="636" x2="677" y2="616"/><line x1="848" y1="636" x2="848" y2="616"/><line x1="1071" y1="636" x2="1071" y2="616"/></g>
<g fill="#dae3f3" stroke="#8fb0dc" stroke-width="1.3"><ellipse cx="677" cy="650" rx="13" ry="15"/><ellipse cx="848" cy="650" rx="13" ry="15"/><ellipse cx="1071" cy="650" rx="13" ry="15"/></g>
<g font-size="11" font-style="italic" text-anchor="middle" fill="#000">
<text x="677" y="654">X<tspan font-size="8" dy="3">t+1</tspan></text><text x="848" y="654">X<tspan font-size="8" dy="3">t+2</tspan></text><text x="1071" y="654">X<tspan font-size="8" dy="3">t+n</tspan></text>
</g>
<g font-size="15" text-anchor="middle" fill="#c55a11"><text x="760" y="646">parameter</text><text x="760" y="665">sharing</text><text x="941" y="646">parameter</text><text x="941" y="665">sharing</text></g>
<text x="1018" y="652" font-size="12" text-anchor="middle" fill="#000">...</text>
<g stroke="#8fb0dc" stroke-width="1.1" fill="none"><line x1="677" y1="691" x2="1125" y2="691"/><line x1="677" y1="691" x2="677" y2="666" marker-end="url(#alb)"/><line x1="848" y1="691" x2="848" y2="666" marker-end="url(#alb)"/><line x1="1071" y1="691" x2="1071" y2="666" marker-end="url(#alb)"/></g>
<g stroke="#8fb0dc" stroke-width="1"><rect x="1125" y="684" width="12" height="14" fill="#b4c7e7"/><rect x="1137" y="684" width="12" height="14" fill="#dae3f3"/><rect x="1149" y="684" width="12" height="14" fill="#b4c7e7"/><rect x="1161" y="684" width="12" height="14" fill="#dae3f3"/><rect x="1173" y="684" width="12" height="14" fill="#b4c7e7"/><rect x="1185" y="684" width="12" height="14" fill="#dae3f3"/></g>
</svg>
</body></html>
